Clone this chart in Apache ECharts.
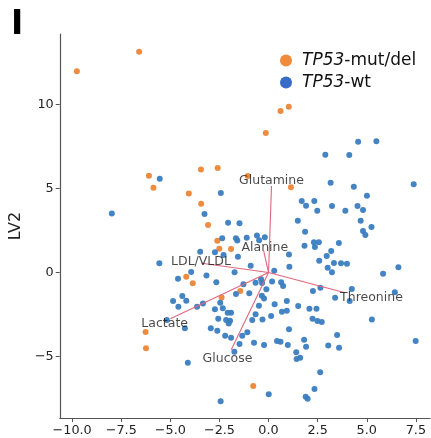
<!DOCTYPE html>
<html>
<head>
<meta charset="utf-8">
<script src="https://cdn.jsdelivr.net/npm/echarts@6/dist/echarts.min.js"></script>
<style>
  html, body { margin: 0; padding: 0; background: #fff; }
  #chart { width: 431px; height: 438px; }
</style>
</head>
<body>
<div id="chart"></div>
<script>
// LV1 / LV2 scores
const tp53MutDel = [
  [-9.76, 11.98], [-6.59, 13.14], [-6.09, 5.76], [-5.86, 5.05], [-4.06, 4.71],
  [-3.44, 6.14], [-2.59, 6.22], [-3.43, 4.10], [0.61, 9.61], [1.03, 9.87],
  [-0.14, 8.30], [-1.06, 5.74], [1.14, 5.07], [-3.08, 2.83], [-2.61, 1.89],
  [-2.51, 1.42], [-1.91, 1.40], [-4.19, -0.25], [-3.86, -0.64], [-2.39, -1.48],
  [-1.44, -1.10], [-6.26, -3.54], [-6.24, -4.51], [-0.78, -6.76]
]

const tp53Wt = [
  [-5.54, 5.58], [-7.98, 3.52], [-3.26, 3.48], [-2.43, 4.73],
  [2.89, 7.01], [4.11, 6.99], [4.56, 7.79], [5.49, 7.81], [3.16, 5.35], [4.34, 5.11], [7.39, 5.25], [5.01, 4.57],
  [1.69, 4.26], [1.91, 3.98], [2.33, 4.26], [2.48, 3.68], [3.23, 3.96], [3.91, 3.68], [4.53, 3.96],
  [4.81, 3.72], [4.69, 3.08], [5.24, 2.71], [4.81, 2.47], [4.93, 2.23],
  [1.49, 3.08], [1.86, 2.43], [1.83, 1.60], [2.31, 1.80], [2.56, 1.80], [2.36, 1.52], [3.58, 1.76],
  [1.04, 1.08], [3.19, 1.28], [2.96, 0.98], [1.06, 0.35], [2.58, 0.70], [3.33, 0.57], [3.69, 0.55],
  [3.99, 0.52], [3.01, 0.29], [3.23, 0.01],
  [6.61, 0.31], [5.83, -0.07], [6.43, -1.18],
  [2.26, -1.10], [2.64, -0.90], [4.24, -0.98], [3.39, -1.50], [4.13, -1.70],
  [0.64, -0.58], [0.74, -0.80],
  [-3.48, 1.24], [-5.56, 0.55], [-3.94, 0.03], [-3.16, -0.17], [-4.61, -0.37], [-4.39, -1.40],
  [-2.66, -0.58], [-2.73, 1.21], [-2.36, 2.04],
  [-4.86, -1.70], [-4.59, -2.03], [-4.19, -1.68], [-3.64, -2.03], [-3.34, -1.85], [-2.46, -1.80],
  [-2.73, -2.19], [-2.33, -2.13], [-2.56, -2.75], [-5.18, -2.83], [-4.26, -3.32], [-2.94, -3.32],
  [-2.61, -3.46], [-4.11, -5.37], [-2.44, -7.67],
  [-2.06, 2.96], [-1.48, 2.93], [-1.66, 2.04], [-1.59, 1.91], [-1.11, 2.07], [-0.59, 2.21], [-0.48, 1.92], [-0.19, 2.10],
  [-2.29, 1.04], [-1.56, 0.94], [-0.91, 0.41], [-1.73, 0.01], [0.29, 0.11],
  [-1.28, -0.70], [-0.66, -0.61], [-0.38, -0.40], [-0.33, -0.63], [0.18, -0.54],
  [-1.66, -1.28], [-0.98, -1.24], [-0.11, -1.00], [-0.34, -1.38], [-0.23, -1.54],
  [-2.08, -2.39], [-1.91, -2.39], [-0.49, -1.98], [0.31, -1.89],
  [-2.16, -2.83], [-1.96, -2.87], [-2.03, -3.03], [-0.66, -2.49], [-0.83, -2.83], [-0.31, -2.79], [0.13, -2.59],
  [-2.21, -3.76], [-1.91, -3.88], [-1.34, -3.76], [-1.08, -3.56], [-1.48, -4.26], [-0.74, -4.18],
  [-0.23, -4.32], [0.43, -4.08], [0.61, -4.12], [-1.74, -4.71], [0.01, -7.25],
  [0.93, -1.70], [0.68, -2.33], [0.93, -2.27], [1.51, -1.99], [2.08, -2.15], [2.44, -2.15],
  [2.24, -2.75], [2.49, -2.89], [2.71, -2.95], [1.04, -3.38], [0.98, -4.32], [1.81, -4.00],
  [1.91, -4.42], [1.41, -4.75], [1.43, -5.15], [1.61, -5.07], [3.49, -3.72], [3.04, -4.34],
  [3.59, -4.48], [2.63, -5.94], [2.34, -6.93], [1.89, -7.39], [1.99, -7.51],
  [5.26, -2.79], [7.49, -4.08]
]

// loadings: line end and where the name sits
const loadingNames = ['Glutamine', 'Alanine', 'LDL/VLDL', 'Threonine', 'Lactate', 'Glucose']
const loadingEnds = [[0.15, 5.15], [-0.25, 1.3], [-3.4, 0.55], [3.9, -1.2], [-5.0, -2.75], [-1.9, -4.6]]
const loadingLabels = [[0.15, 5.45], [-0.19, 1.48], [-3.44, 0.64], [5.24, -1.48], [-5.29, -3.02], [-2.09, -5.13]]

const xTicks = [-10, -7.5, -5, -2.5, 0, 2.5, 5, 7.5]
const yTicks = [-5, 0, 5, 10]

const font = 'DejaVu Sans'
const minus = v => (v < 0 ? '\u2212' : '') + Math.abs(v)

const chart = echarts.init(document.getElementById('chart'))

const loadingLines = loadingEnds.map((end, i) => ({
    name: loadingNames[i],
    type: 'line',
    data: [[0, 0], end],
    showSymbol: false,
    symbol: 'none',
    silent: true,
    z: 3,
    lineStyle: { color: '#E0677F', width: 1.1 }
}))

const option = {
    animation: false,
    backgroundColor: '#fff',
    graphic: [
        {
            type: 'text', left: 11, top: 9,
            style: { text: 'I', font: 'bold 33px "DejaVu Sans"', fill: '#000' }
        }
    ],
    legend: {
        orient: 'vertical',
        left: 275,
        top: 47,
        itemWidth: 12,
        itemHeight: 12,
        itemGap: 5,
        icon: 'circle',
        data: [
            { name: 'TP53-mut/del', itemStyle: { color: '#F0852E' } },
            { name: 'TP53-wt', itemStyle: { color: '#2C63C2' } }
        ],
        formatter: name => '{i|TP53}{n|' + name.slice(4) + '}',
        textStyle: {
            padding: [0, 0, 0, 5],
            rich: {
                i: { fontFamily: font, fontStyle: 'italic', fontSize: 17, color: '#111', lineHeight: 20 },
                n: { fontFamily: font, fontSize: 17, color: '#111', lineHeight: 20 }
            }
        }
    },
    grid: { left: 53, top: 34, width: 377, height: 384 },
    xAxis: {
        type: 'value',
        min: -10.63,
        max: 8.22,
        splitLine: { show: false },
        axisLine: { onZero: false, lineStyle: { color: '#555', width: 1.2 } },
        axisTick: { show: true, length: 4, lineStyle: { color: '#555' }, customValues: xTicks },
        axisLabel: {
            customValues: xTicks,
            margin: 6,
            fontFamily: font, fontSize: 12.8, color: '#222',
            formatter: v => (v < 0 ? '\u2212' : '') + Math.abs(v).toFixed(1)
        }
    },
    yAxis: {
        type: 'value',
        min: -8.66,
        max: 14.2,
        name: 'LV2',
        nameLocation: 'middle',
        nameGap: 18,
        nameTextStyle: { fontFamily: font, fontSize: 16, color: '#222' },
        splitLine: { show: false },
        axisLine: { show: true, onZero: false, lineStyle: { color: '#555', width: 1.2 } },
        axisTick: { show: true, length: 4, lineStyle: { color: '#555' }, customValues: yTicks },
        axisLabel: {
            customValues: yTicks,
            margin: 6,
            fontFamily: font, fontSize: 12.8, color: '#222',
            formatter: minus
        }
    },
    series: [
        {
            name: 'TP53-mut/del',
            type: 'scatter',
            data: tp53MutDel,
            symbolSize: 6,
            z: 2,
            itemStyle: { color: '#EC8637', opacity: 0.95 }
        },
        {
            name: 'TP53-wt',
            type: 'scatter',
            data: tp53Wt,
            symbolSize: 6,
            z: 2,
            itemStyle: { color: '#3B7DBF', opacity: 0.95 }
        },
        ...loadingLines,
        {
            name: 'loading names',
            type: 'scatter',
            data: loadingLabels.map((p, i) => ({ value: p, name: loadingNames[i] })),
            symbolSize: 0,
            silent: true,
            z: 4,
            label: {
                show: true,
                position: 'inside',
                formatter: p => p.name,
                fontFamily: font,
                fontSize: 12.5,
                color: '#1a1a1a'
            }
        }
    ]
}

chart.setOption(option)
</script>
</body>
</html>
